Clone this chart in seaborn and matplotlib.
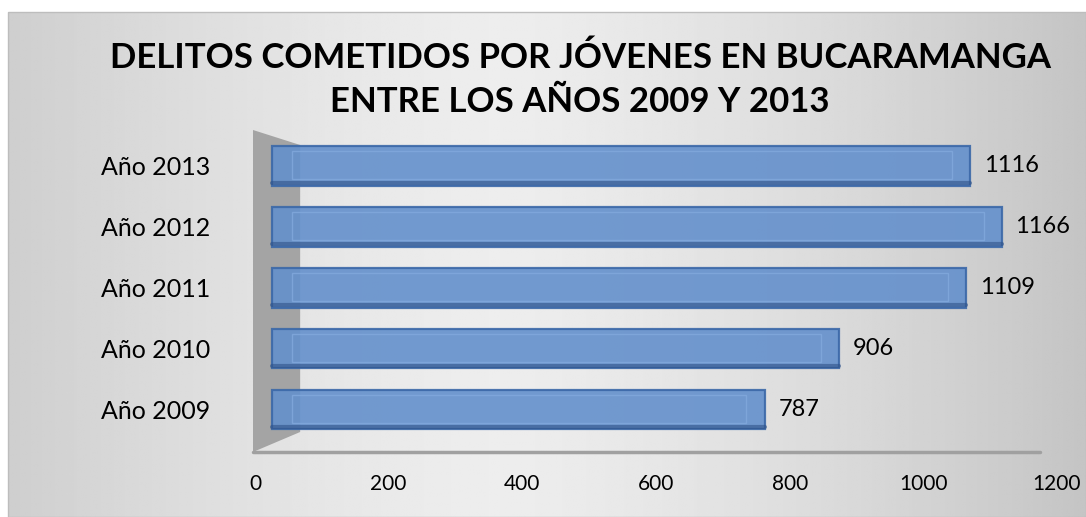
import numpy as np
import pandas as pd
import seaborn as sns
import matplotlib.pyplot as plt
from matplotlib.patches import Polygon, Rectangle

# data
years = ['Año 2013', 'Año 2012', 'Año 2011', 'Año 2010', 'Año 2009']
delitos = [1116, 1166, 1109, 906, 787]
x_ticks = [0, 200, 400, 600, 800, 1000, 1200]

titulo = 'DELITOS COMETIDOS POR JÓVENES EN BUCARAMANGA\nENTRE LOS AÑOS 2009 Y 2013'

df = pd.DataFrame({'anio': years, 'delitos': delitos})

sns.set_style('white')
plt.rcParams['font.family'] = ['Lato', 'DejaVu Sans']
plt.rcParams['text.color'] = 'black'
plt.rcParams['xtick.color'] = 'black'
plt.rcParams['ytick.color'] = 'black'

W, H = 1086, 517
fig = plt.figure(figsize=(W / 100, H / 100), dpi=100)
fig.patch.set_facecolor('white')

# background gradient of the chart area (darker at the sides)
bg = fig.add_axes([8 / W, 0, 1 - 8 / W, 1 - 12 / H])
xs = np.linspace(-1, 1, 400)
row = 0.93 - 0.14 * np.abs(xs + 0.1) ** 1.4
bg.imshow(np.tile(row, (50, 1)), cmap='gray', vmin=0, vmax=1, aspect='auto',
          extent=[0, 1, 0, 1])
bg.set_axis_off()
fig.add_artist(Rectangle((8 / W, 0), 1 - 8 / W, 1 - 12 / H, transform=fig.transFigure,
                         fill=False, edgecolor='#bdbdbd', lw=1))

# front axis (tick labels) and back plane (bars, 3D perspective)
yt, yb = 125, 452
front = fig.add_axes([255 / W, 1 - yb / H, (1057 - 255) / W, (yb - yt) / H])
front.patch.set_alpha(0)
front.set_xlim(0, 1200)
front.set_xticks(x_ticks)
front.set_xticklabels([str(t) for t in x_ticks], fontsize=15)
front.tick_params(axis='x', length=0, pad=16)
front.set_yticks([])
for s in front.spines.values():
    s.set_visible(False)

bx0, bx1 = 253, 1023
ax = fig.add_axes([bx0 / W, 1 - yb / H, (bx1 - bx0) / W, (yb - yt) / H])
ax.patch.set_alpha(0)
xmin = -(272 - bx0) / 0.626

sns.barplot(data=df, x='delitos', y='anio', order=years, orient='h',
            color='#6490cc', edgecolor='#3b68a8', linewidth=1.6, width=0.64,
            alpha=0.9, saturation=1, ax=ax, zorder=3)

ax.set_xlim(xmin, 1200)
ax.set_ylim(4.689, -0.672)

# grey side wall and floor line
wall = Polygon([(xmin, 4.689), (xmin, -0.59), (45, -0.344), (45, 4.361)], closed=True,
               facecolor='#a4a4a4', edgecolor='none', zorder=1)
ax.add_patch(wall)
ax.plot([xmin, 1227], [4.689, 4.689], color='#a0a0a0', lw=2.5, zorder=2, clip_on=False)

# bevel highlights on each bar + value labels
for p in list(ax.patches):
    if p is wall:
        continue
    x, y = p.get_x(), p.get_y()
    bw, bh = p.get_width(), p.get_height()
    ax.add_patch(Rectangle((x + 32, y + 0.07), bw - 61, bh - 0.17, fill=False,
                           edgecolor='#82a9dd', lw=1.0, alpha=0.8, zorder=4))
    ax.plot([x, x + bw], [y + bh - 0.04, y + bh - 0.04], color='#2f5288',
            lw=3, alpha=0.6, zorder=4)
    ax.text(x + bw + 22, y + bh / 2, f'{int(bw)}', va='center', ha='left',
            fontsize=17, color='black', zorder=5)

ax.set_xticks([])
ax.tick_params(axis='y', length=0, pad=31, labelsize=18)
ax.set_xlabel('')
ax.set_ylabel('')
for s in ax.spines.values():
    s.set_visible(False)

fig.text(580 / W, 1 - 80 / H, titulo, ha='center', va='center', fontsize=25,
         fontweight='bold', linespacing=1.45, color='black')

fig.savefig('out.png', dpi=100)
